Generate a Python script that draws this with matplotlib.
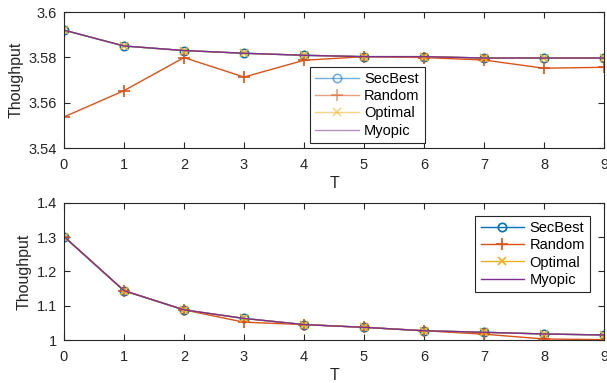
import matplotlib
matplotlib.use("Agg")
import matplotlib.pyplot as plt
from matplotlib.lines import Line2D

plt.rcParams['font.family'] = ['Liberation Sans', 'DejaVu Sans']
plt.rcParams['font.size'] = 10

T = list(range(10))
labels = ["SecBest", "Random", "Optimal", "Myopic"]

top_secbest = [3.592, 3.585, 3.583, 3.5818, 3.5809, 3.5803, 3.5803, 3.5797, 3.5797, 3.5797]
top_random = [3.5537, 3.5653, 3.5799, 3.5713, 3.5787, 3.5803, 3.5799, 3.5788, 3.5752, 3.5756]
top_optimal = [3.592, 3.585, 3.583, 3.5818, 3.5809, 3.5803, 3.5803, 3.5797, 3.5797, 3.5797]
top_myopic = [3.592, 3.585, 3.583, 3.5818, 3.5809, 3.5803, 3.5803, 3.5797, 3.5797, 3.5797]

bot_secbest = [1.302, 1.144, 1.088, 1.063, 1.045, 1.037, 1.027, 1.0225, 1.0176, 1.0146]
bot_random = [1.302, 1.144, 1.088, 1.052, 1.045, 1.037, 1.027, 1.017, 1.003, 1.001]
bot_optimal = [1.302, 1.144, 1.088, 1.063, 1.045, 1.037, 1.027, 1.0225, 1.0176, 1.0146]
bot_myopic = [1.302, 1.144, 1.088, 1.063, 1.045, 1.037, 1.027, 1.0225, 1.0176, 1.0146]

top_yticks = [3.54, 3.56, 3.58, 3.6]
bot_yticks = [1, 1.1, 1.2, 1.3, 1.4]

C = ['#0072BD', '#D95319', '#EDB120', '#7E2F8E']
AX = '#262626'

fig = plt.figure(figsize=(6.07, 3.83), dpi=100)
W, H = 607, 383
ax1 = fig.add_axes([64 / W, 1 - 148 / H, 540 / W, 136 / H])
ax2 = fig.add_axes([64 / W, 1 - 340 / H, 540 / W, 137 / H])


def draw(ax, sb, rd, op, my, yticks, ylim, faded):
    ax.plot(T, sb, color=C[0], marker='o', ms=6, mfc='none', mew=1.2, lw=1, label=labels[0])
    ax.plot(T, rd, color=C[1], marker='+', ms=9, mew=1.2, lw=1, label=labels[1])
    ax.plot(T, op, color=C[2], marker='x', ms=6, mew=1.2, lw=1, label=labels[2])
    ax.plot(T, my, color=C[3], lw=1, label=labels[3])
    ax.set_xlim(0, 9)
    ax.set_ylim(*ylim)
    ax.set_xticks(T)
    ax.set_yticks(yticks)
    ax.set_yticklabels([('%g' % v) for v in yticks])
    ax.tick_params(direction='in', top=True, right=True, length=4, colors=AX, labelsize=10.5, width=0.8)
    ax.tick_params(axis='x', pad=7)
    ax.tick_params(axis='y', pad=5)
    for s in ax.spines.values():
        s.set_color(AX)
        s.set_linewidth(0.8)
    ax.set_xlabel('T', color=AX, fontsize=11.5, labelpad=3)
    ax.set_ylabel('Thoughput', color=AX, fontsize=11.5)
    a = 0.55 if faded else 1.0
    handles = [
        Line2D([], [], color=C[0], marker='o', ms=6, mfc='none', mew=1.2, lw=1, alpha=a),
        Line2D([], [], color=C[1], marker='+', ms=9, mew=1.2, lw=1, alpha=a),
        Line2D([], [], color=C[2], marker='x', ms=6, mew=1.2, lw=1, alpha=a),
        Line2D([], [], color=C[3], lw=1, alpha=a),
    ]
    return handles


h1 = draw(ax1, top_secbest, top_random, top_optimal, top_myopic, top_yticks, (3.54, 3.6), True)
h2 = draw(ax2, bot_secbest, bot_random, bot_optimal, bot_myopic, bot_yticks, (1.0, 1.4), False)

kw = dict(fancybox=False, edgecolor=AX, framealpha=1, fontsize=10.5, borderpad=0.35,
          labelspacing=0.22, handlelength=3.0, handletextpad=0.35, borderaxespad=0)
leg1 = ax1.legend(h1, labels, loc='upper left', bbox_to_anchor=(0.456, 0.596), **kw)
leg1.get_frame().set_linewidth(0.8)
leg2 = ax2.legend(h2, labels, loc='upper right', bbox_to_anchor=(0.974, 0.905), **kw)
leg2.get_frame().set_linewidth(0.8)

fig.savefig('out.png', dpi=100)
